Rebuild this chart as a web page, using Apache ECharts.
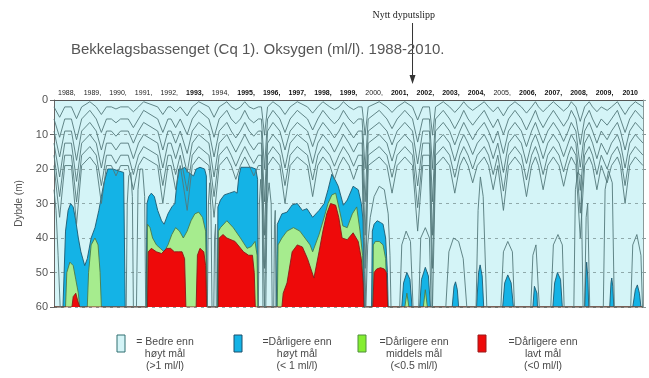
<!DOCTYPE html>
<html>
<head>
<meta charset="utf-8">
<script src="https://cdn.jsdelivr.net/npm/echarts@6/dist/echarts.min.js"></script>
<style>
html,body{margin:0;padding:0;background:#ffffff;}
#chart{width:649px;height:378px;}
</style>
</head>
<body>
<div id="chart"></div>
<script>
// Year labels along the top edge (bold ones as printed)
const yearLabels = ['1988','1989','1990','1991','1992','1993','1994','1995','1996','1997','1998','1999',
  '2000','2001','2002','2003','2004','2005','2006','2007','2008','2009','2010'];
const boldYears = ['1993','1995','1996','1997','1998','1999','2001','2002','2003','2004','2006','2007','2008','2009','2010'];

// Depth (m) of the top of each oxygen class, by time (decimal year). 60 = class absent.
const blueTop = [ // < 1 ml/l
  [1988.0,60],
  [1988.35,60],[1988.45,38],[1988.55,32],[1988.65,30],[1988.75,31],[1988.85,35],[1988.95,40],[1989.05,44],
  [1989.2,48],[1989.3,46],[1989.45,40],[1989.6,37],[1989.75,32],[1989.85,28],[1989.95,24],[1990.1,20],
  [1990.3,20],[1990.5,20.5],[1990.72,21],[1990.78,60],
  [1991.6,60],[1991.63,30],[1991.7,28],[1991.8,27],[1991.92,28],[1992.05,32],[1992.2,35],[1992.3,36],
  [1992.45,33],[1992.6,31],[1992.72,30],[1992.8,24],[1992.87,20],[1993.0,20],[1993.1,19.5],[1993.25,21],
  [1993.45,22],[1993.55,20],[1993.7,19.5],[1993.88,20],[1993.95,22],[1993.98,60],
  [1994.38,60],[1994.4,31],[1994.5,29],[1994.65,27.5],[1994.85,27],[1995.05,26.5],[1995.15,27],[1995.22,22],
  [1995.3,19.5],[1995.5,19.5],[1995.7,19.5],[1995.88,20],[1995.95,23],[1995.97,60],
  [1996.68,60],[1996.72,36],[1996.9,33],[1997.1,32.5],[1997.3,30.4],[1997.5,30],[1997.7,32],[1997.88,31.5],
  [1998.1,34],[1998.35,32],[1998.55,30],[1998.7,26],[1998.85,21.5],[1999.0,23.5],[1999.1,25],[1999.3,30.5],
  [1999.45,29],[1999.68,25],[1999.88,26],[2000.0,30],[2000.07,35],[2000.12,60],
  [2000.4,60],[2000.43,38],[2000.5,36],[2000.62,35],[2000.75,35.5],[2000.85,36],[2000.95,40],[2001.02,50],[2001.05,60],
  [2001.58,60],[2001.65,53],[2001.78,50],[2001.9,52],[2001.98,60],
  [2002.28,60],[2002.35,52],[2002.5,48.5],[2002.62,51],[2002.7,60],
  [2003.55,60],[2003.62,54],[2003.68,52.7],[2003.75,55],[2003.8,60],
  [2004.5,60],[2004.58,50],[2004.64,47.8],[2004.72,51],[2004.78,60],
  [2005.52,60],[2005.6,53],[2005.72,50.7],[2005.85,53],[2005.94,60],
  [2006.7,60],[2006.76,54],[2006.8,53.6],[2006.86,56],[2006.88,60],
  [2007.48,60],[2007.55,53],[2007.66,50],[2007.78,52],[2007.85,60],
  [2008.72,60],[2008.77,50],[2008.8,47],[2008.85,52],[2008.88,60],
  [2009.7,60],[2009.75,53],[2009.78,51.6],[2009.82,54],[2009.86,60],
  [2010.6,60],[2010.7,55],[2010.78,53.6],[2010.86,56],[2010.92,60],
  [2011.0,60]
];
const greenTop = [ // < 0.5 ml/l
  [1988.0,60],
  [1988.45,60],[1988.5,50],[1988.62,47],[1988.75,48],[1988.85,52],[1988.95,56],[1989.0,60],
  [1989.3,60],[1989.35,50],[1989.45,42],[1989.6,40],[1989.72,42],[1989.8,50],[1989.85,60],
  [1991.63,60],[1991.65,36],[1991.75,37],[1991.85,40],[1992.0,42],[1992.15,43],[1992.3,44],[1992.45,42],
  [1992.6,39],[1992.75,37],[1992.9,38],[1993.05,40],[1993.2,38],[1993.35,35],[1993.5,33],[1993.65,32.5],
  [1993.8,34],[1993.92,38],[1993.97,60],
  [1994.4,60],[1994.42,38],[1994.5,37],[1994.75,35],[1995.0,37],[1995.28,40],[1995.54,43],[1995.7,42.5],
  [1995.85,41],[1995.93,45],[1995.96,60],
  [1996.72,60],[1996.75,42],[1996.9,40],[1997.1,38],[1997.35,37],[1997.6,38],[1997.8,40],[1998.0,42],
  [1998.1,44],[1998.35,39],[1998.55,34],[1998.7,30],[1998.85,27.5],[1999.0,27],[1999.15,32],[1999.28,36.5],
  [1999.45,37],[1999.65,33],[1999.82,31],[1999.95,38],[2000.05,45],[2000.08,60],
  [2000.45,60],[2000.47,42],[2000.55,41],[2000.7,41],[2000.85,42],[2000.95,46],[2001.02,60],
  [2001.7,60],[2001.78,56],[2001.86,60],
  [2002.42,60],[2002.5,55],[2002.58,60],
  [2011.0,60]
];
const redTop = [ // < 0 ml/l
  [1988.0,60],
  [1988.7,60],[1988.75,57],[1988.85,56],[1988.92,58],[1989.0,60],
  [1991.65,60],[1991.68,44],[1991.8,43],[1992.0,44],[1992.2,44.5],[1992.4,43],[1992.55,43],[1992.7,44],
  [1992.85,44],[1993.0,44],[1993.1,46],[1993.15,60],
  [1993.55,60],[1993.6,45],[1993.7,43],[1993.85,44],[1993.92,48],[1993.96,60],
  [1994.42,60],[1994.45,40],[1994.6,39],[1994.75,40],[1995.07,41],[1995.4,44],[1995.6,45],[1995.75,45],
  [1995.82,50],[1995.86,60],
  [1996.9,60],[1996.95,56],[1997.1,53],[1997.3,44],[1997.5,42],[1997.7,42.6],[1997.9,46],[1998.15,51.6],
  [1998.35,44],[1998.5,38],[1998.65,33],[1998.8,30],[1999.0,30.5],[1999.12,34],[1999.25,40],[1999.45,40.5],
  [1999.68,38.5],[1999.88,41],[2000.0,46],[2000.07,53],[2000.1,60],
  [2000.45,60],[2000.5,50],[2000.6,49],[2000.75,48.6],[2000.9,49],[2000.98,50],[2001.03,60],
  [2011.0,60]
];

// Upper isolines: shared time stations and the depth of each line at them
const isolineTimes = [1988.0,
  1988.04,1988.22,1988.42, 1988.68,1988.88,1989.08, 1989.4,
  1989.65,1989.85,1990.05, 1990.24,1990.42,1990.6, 1990.9,1991.1,1991.3, 1991.5,
  1992.05,1992.25,1992.45, 1992.57,1992.75,1992.93, 1993.0,1993.2,1993.4, 1993.65,
  1994.05,1994.25,1994.45, 1994.75,
  1994.92,1995.1,1995.28, 1995.45,
  1995.62,1995.8,1995.98, 1996.1,1996.22,1996.34, 1996.55,
  1996.82,1997.02,1997.22, 1997.5,
  1997.9,1998.1,1998.3, 1998.5,
  1998.77,1998.95,1999.13, 1999.3,
  1999.52,1999.7,1999.88, 2000.03,2000.15,2000.27, 2000.7,
  2001.0,2001.2,2001.4, 2001.7,
  2002.0,2002.2,2002.4, 2002.66,2002.78,2002.9, 2003.2,
  2003.45,2003.65,2003.85, 2004.0,
  2004.17,2004.35,2004.53, 2004.8,
  2004.97,2005.15,2005.33, 2005.37,2005.55,2005.75, 2006.0,
  2006.25,2006.45,2006.65, 2006.8,
  2006.92,2007.1,2007.28, 2007.5,
  2007.72,2007.9,2008.08, 2008.2,
  2008.38,2008.55,2008.72, 2008.9,
  2009.03,2009.2,2009.37, 2009.43,2009.6,2009.77, 2010.0,
  2010.12,2010.3,2010.48, 2010.7,
  2011.0];
const isoline1 = [2, 2,5,2, 2,5.4,2, 0.5, 2,4.2,2, 2,2.6,2, 2,3.4,2, 0.5, 2,4.2,2, 2,3.4,2, 2,4.6,2, 0.5,
  2,5,2, 0.5, 2,2.8,2, 0.5, 2,2.6,2, 2,10.2,2, 0.5, 2,4.2,2, 0.5, 2,3.8,2, 0.5, 2,2.8,2, 0.5,
  2,2.8,2, 2,10.2,2, 0.5, 2,3.6,2, 0.5, 2,5.8,2, 2,10.2,2, 0.5, 2,3.6,2, 0.5, 2,3,2, 0.5,
  2,3.4,2, 2,4.6,2, 0.5, 2,3.8,2, 0.5, 2,3.4,2, 0.5, 2,3.2,2, 0.5, 2,6.2,2, 0.5,
  2,3.4,2, 2,3,2, 0.5, 2,4.2,2, 0.5, 2];
const isoline2 = [5.5, 5.5,10.8,5.5, 5.5,11.5,5.5, 3, 5.5,9.4,5.5, 5.5,6.6,5.5, 5.5,8,5.5, 3, 5.5,9.4,5.5, 5.5,8,5.5, 5.5,10,5.5, 3,
  5.5,10.8,5.5, 3, 5.5,6.9,5.5, 3, 5.5,6.6,5.5, 5.5,19.9,5.5, 3, 5.5,9.4,5.5, 3, 5.5,8.7,5.5, 3, 5.5,6.9,5.5, 3,
  5.5,6.9,5.5, 5.5,19.9,5.5, 3, 5.5,8.3,5.5, 3, 5.5,12.2,5.5, 5.5,19.9,5.5, 3, 5.5,8.3,5.5, 3, 5.5,7.3,5.5, 3,
  5.5,8,5.5, 5.5,10,5.5, 3, 5.5,8.7,5.5, 3, 5.5,8,5.5, 3, 5.5,7.6,5.5, 3, 5.5,12.9,5.5, 3,
  5.5,8,5.5, 5.5,7.3,5.5, 3, 5.5,9.4,5.5, 3, 5.5];
const isoline3 = [9, 9,16.5,9, 9,17.5,9, 6.5, 9,14.5,9, 9,10.5,9, 9,12.5,9, 6.5, 9,14.5,9, 9,12.5,9, 9,15.5,9, 6.5,
  9,16.5,9, 6.5, 9,11,9, 6.5, 9,10.5,9, 9,29.5,9, 6.5, 9,14.5,9, 6.5, 9,13.5,9, 6.5, 9,11,9, 6.5,
  9,11,9, 9,29.5,9, 6.5, 9,13,9, 6.5, 9,18.5,9, 9,29.5,9, 6.5, 9,13,9, 6.5, 9,11.5,9, 6.5,
  9,12.5,9, 9,15.5,9, 6.5, 9,13.5,9, 6.5, 9,12.5,9, 6.5, 9,12,9, 6.5, 9,19.5,9, 6.5,
  9,12.5,9, 9,11.5,9, 6.5, 9,14.5,9, 6.5, 9];
const isoline4 = [12.5, 12.5,22.3,12.5, 12.5,23.6,12.5, 10, 12.5,19.7,12.5, 12.5,14.5,12.5, 12.5,17,12.5, 10, 12.5,19.7,12.5, 12.5,17,12.5, 12.5,21,12.5, 10,
  12.5,22.3,12.5, 10, 12.5,15.1,12.5, 10, 12.5,14.5,12.5, 12.5,39.2,12.5, 10, 12.5,19.7,12.5, 10, 12.5,18.4,12.5, 10, 12.5,15.1,12.5, 10,
  12.5,15.1,12.5, 12.5,39.2,12.5, 10, 12.5,17.7,12.5, 10, 12.5,24.9,12.5, 12.5,39.2,12.5, 10, 12.5,17.7,12.5, 10, 12.5,15.8,12.5, 10,
  12.5,17,12.5, 12.5,21,12.5, 10, 12.5,18.4,12.5, 10, 12.5,17,12.5, 10, 12.5,16.4,12.5, 10, 12.5,26.2,12.5, 10,
  12.5,17,12.5, 12.5,15.8,12.5, 10, 12.5,19.7,12.5, 10, 12.5];
const isoline5 = [16, 16,28,16, 16,29.6,16, 13.5, 16,24.8,16, 16,18.4,16, 16,21.6,16, 13.5, 16,24.8,16, 16,21.6,16, 16,26.4,16, 13.5,
  16,28,16, 13.5, 16,19.2,16, 13.5, 16,18.4,16, 16,48.8,16, 13.5, 16,24.8,16, 13.5, 16,23.2,16, 13.5, 16,19.2,16, 13.5,
  16,19.2,16, 16,48.8,16, 13.5, 16,22.4,16, 13.5, 16,31.2,16, 16,48.8,16, 13.5, 16,22.4,16, 13.5, 16,20,16, 13.5,
  16,21.6,16, 16,26.4,16, 13.5, 16,23.2,16, 13.5, 16,21.6,16, 13.5, 16,20.8,16, 13.5, 16,32.8,16, 13.5,
  16,21.6,16, 16,20,16, 13.5, 16,24.8,16, 13.5, 16];
const isoline6 = [19, 19,34,19, 19,36,19, 16.5, 19,30,19, 19,22,19, 19,26,19, 16.5, 19,30,19, 19,26,19, 19,32,19, 16.5,
  19,34,19, 16.5, 19,23,19, 16.5, 19,22,19, 19,60,19, 16.5, 19,30,19, 16.5, 19,28,19, 16.5, 19,23,19, 16.5,
  19,23,19, 19,60,19, 16.5, 19,27,19, 16.5, 19,38,19, 19,60,19, 16.5, 19,27,19, 16.5, 19,24,19, 16.5,
  19,26,19, 19,32,19, 16.5, 19,28,19, 16.5, 19,26,19, 16.5, 19,25,19, 16.5, 19,40,19, 16.5,
  19,26,19, 19,24,19, 16.5, 19,30,19, 16.5, 19];

// Deeper isolines rising from the bottom between and around the low-oxygen pockets
const deepIsolines = [
  [[1988.0,26],[1988.08,32],[1988.16,45],[1988.24,60]],
  [[1990.82,60],[1990.86,30],[1990.92,22],[1991.0,21],[1991.06,28],[1991.1,60]],
  [[1991.22,60],[1991.28,26],[1991.36,20],[1991.46,20],[1991.54,28],[1991.58,60]],
  [[1993.99,60],[1994.03,30],[1994.08,24],[1994.13,32],[1994.17,60]],
  [[1994.24,60],[1994.27,40],[1994.31,36],[1994.34,60]],
  [[1995.98,60],[1996.02,30],[1996.07,23],[1996.13,30],[1996.16,60]],
  [[1996.27,60],[1996.32,30],[1996.4,24],[1996.48,30],[1996.52,60]],
  [[1996.58,60],[1996.61,36],[1996.64,32],[1996.67,60]],
  [[2000.18,60],[2000.25,42],[2000.35,34],[2000.5,28],[2000.7,25],[2000.9,26],[2001.05,33],[2001.12,45],[2001.16,60]],
  [[2001.5,60],[2001.58,42],[2001.75,38],[2001.92,41],[2002.02,60]],
  [[2002.24,60],[2002.32,40],[2002.5,37],[2002.66,40],[2002.73,60]],
  [[2003.3,60],[2003.42,44],[2003.6,40],[2003.8,41],[2003.98,46],[2004.12,60]],
  [[2004.48,60],[2004.56,32],[2004.65,22.3],[2004.76,28],[2004.9,60]],
  [[2005.45,60],[2005.55,44],[2005.72,41],[2005.9,44],[2005.98,60]],
  [[2006.62,60],[2006.7,45],[2006.82,42],[2006.95,60]],
  [[2007.4,60],[2007.5,42],[2007.68,39],[2007.85,42],[2007.92,60]],
  [[2008.3,60],[2008.36,26],[2008.45,21],[2008.58,22],[2008.66,60]],
  [[2008.72,60],[2008.78,34],[2008.84,30],[2008.92,60]],
  [[2009.45,60],[2009.52,26],[2009.65,20.5],[2009.8,24],[2009.88,60]],
  [[2010.52,60],[2010.6,42],[2010.76,39],[2010.92,45],[2010.98,60]]
];

// Legend entries: label lines
const legendLines = [
  ['= Bedre enn', 'høyt mål', '(>1 ml/l)'],
  ['=Dårligere enn', 'høyt mål', '(< 1 ml/l)'],
  ['=Dårligere enn', 'middels mål', '(<0.5 ml/l)'],
  ['=Dårligere enn', 'lavt mål', '(<0 ml/l)']
];

const COL_BG = '#d4f4f7', COL_BLUE = '#14b3e6', COL_GREEN = '#a6ec8e', COL_RED = '#ee0a0a';
const COL_ISO = '#54787a';
const FONT = '"Liberation Sans", Arial, sans-serif';

const chart = echarts.init(document.getElementById('chart'), null, {renderer: 'canvas'});

function areaSeries(name, data, fill, edge, z) {
  return {
    name, type: 'line', data, z, symbol: 'none', smooth: false, silent: true,
    lineStyle: {color: edge, width: 0.9},
    areaStyle: {color: fill, opacity: 1, origin: 'end'}
  };
}
function lineSeries(data, z, color, width) {
  return {
    type: 'line', data, z, symbol: 'none', smooth: false, silent: true,
    lineStyle: {color, width}
  };
}

const isolines = [isoline1, isoline2, isoline3, isoline4, isoline5, isoline6];
const series = [
  areaSeries('blue', blueTop, COL_BLUE, '#1d5a70', 3),
  areaSeries('green', greenTop, COL_GREEN, '#4d7a4a', 4),
  areaSeries('red', redTop, COL_RED, '#8a1a1a', 5)
];
isolines.forEach(depths => {
  series.push(lineSeries(isolineTimes.map((t, i) => [t, depths[i]]), 6, COL_ISO, 0.9));
});
deepIsolines.forEach(arc => series.push(lineSeries(arc, 6, COL_ISO, 0.9)));

const richYears = {
  n: {fontSize: 7, color: '#222', fontFamily: FONT},
  b: {fontSize: 7, color: '#111', fontWeight: 'bold', fontFamily: FONT}
};

chart.setOption({
  animation: false,
  backgroundColor: '#ffffff',
  title: {
    text: 'Bekkelagsbassenget (Cq 1). Oksygen (ml/l). 1988-2010.',
    left: 66, top: 37,
    textStyle: {fontFamily: FONT, fontSize: 15, fontWeight: 'normal', color: '#555'}
  },
  grid: {left: 54, right: 6, top: 100, bottom: 71, show: true, backgroundColor: COL_BG, borderWidth: 0},
  xAxis: [
    {type: 'value', min: 1988, max: 2011, position: 'bottom',
      axisLine: {show: true, lineStyle: {color: '#555', width: 1}},
      axisTick: {show: false}, axisLabel: {show: false}, splitLine: {show: false}},
    {type: 'category', data: yearLabels, position: 'top', boundaryGap: true,
      axisLine: {show: false}, axisTick: {show: false}, splitLine: {show: false},
      axisLabel: {margin: 3, interval: 0,
        formatter: (v, i) => {
          const txt = v + (i < yearLabels.length - 1 ? ',' : '');
          return boldYears.includes(v) ? '{b|' + txt + '}' : '{n|' + txt + '}';
        },
        rich: richYears}}
  ],
  yAxis: [
    {type: 'value', inverse: true, min: 0, max: 60, interval: 10, position: 'left',
      name: 'Dybde (m)', nameLocation: 'middle', nameGap: 30, nameRotate: 90,
      nameTextStyle: {fontFamily: FONT, fontSize: 10, color: '#555'},
      axisLine: {show: true, lineStyle: {color: '#666', width: 1}},
      axisTick: {show: true, length: 4, lineStyle: {color: '#666'}},
      axisLabel: {fontFamily: FONT, fontSize: 11, color: '#555', margin: 6},
      splitLine: {show: true, lineStyle: {color: '#8fa9aa', width: 1, type: [3, 4]}}},
    {type: 'value', inverse: true, min: 0, max: 60, interval: 10, position: 'right',
      axisLine: {show: true, lineStyle: {color: '#8a9a9a', width: 1}},
      axisTick: {show: true, length: 3, lineStyle: {color: '#8a9a9a'}},
      axisLabel: {show: false}, splitLine: {show: false}}
  ],
  series
});

// Annotation arrow for the new deep outlet, placed on the time scale
const outletYear = 2002.0;
const ax = chart.convertToPixel({xAxisIndex: 0}, outletYear);
const graphics = [
  {type: 'text', left: ax - 40, top: 10,
    style: {text: 'Nytt dyputslipp', font: '10px "Liberation Serif", "Times New Roman", serif', fill: '#222'}},
  {type: 'line', shape: {x1: ax, y1: 23, x2: ax, y2: 78}, style: {stroke: '#333', lineWidth: 1}},
  {type: 'polygon', shape: {points: [[ax - 3, 75], [ax + 3, 75], [ax, 84]]}, style: {fill: '#333'}}
];
// Legend boxes with their three-line captions
const legendFill = [[COL_BG, '#2f6f70'], [COL_BLUE, '#1c4f6a'], ['#84ee30', '#4f8f3a'], [COL_RED, '#9a1a1a']];
const legendBoxX = [117, 234, 358, 478];
const legendTextX = [165, 297, 414, 543];
legendLines.forEach((lines, i) => {
  graphics.push({type: 'rect', shape: {x: legendBoxX[i], y: 335, width: 8, height: 17},
    style: {fill: legendFill[i][0], stroke: legendFill[i][1], lineWidth: 1}});
  lines.forEach((ln, j) => {
    graphics.push({type: 'text', x: legendTextX[i], y: 342 + j * 12,
      style: {text: ln, font: '10.5px ' + FONT, fill: '#4a4a4a', align: 'center', verticalAlign: 'middle'}});
  });
});
chart.setOption({graphic: graphics});
</script>
</body>
</html>
